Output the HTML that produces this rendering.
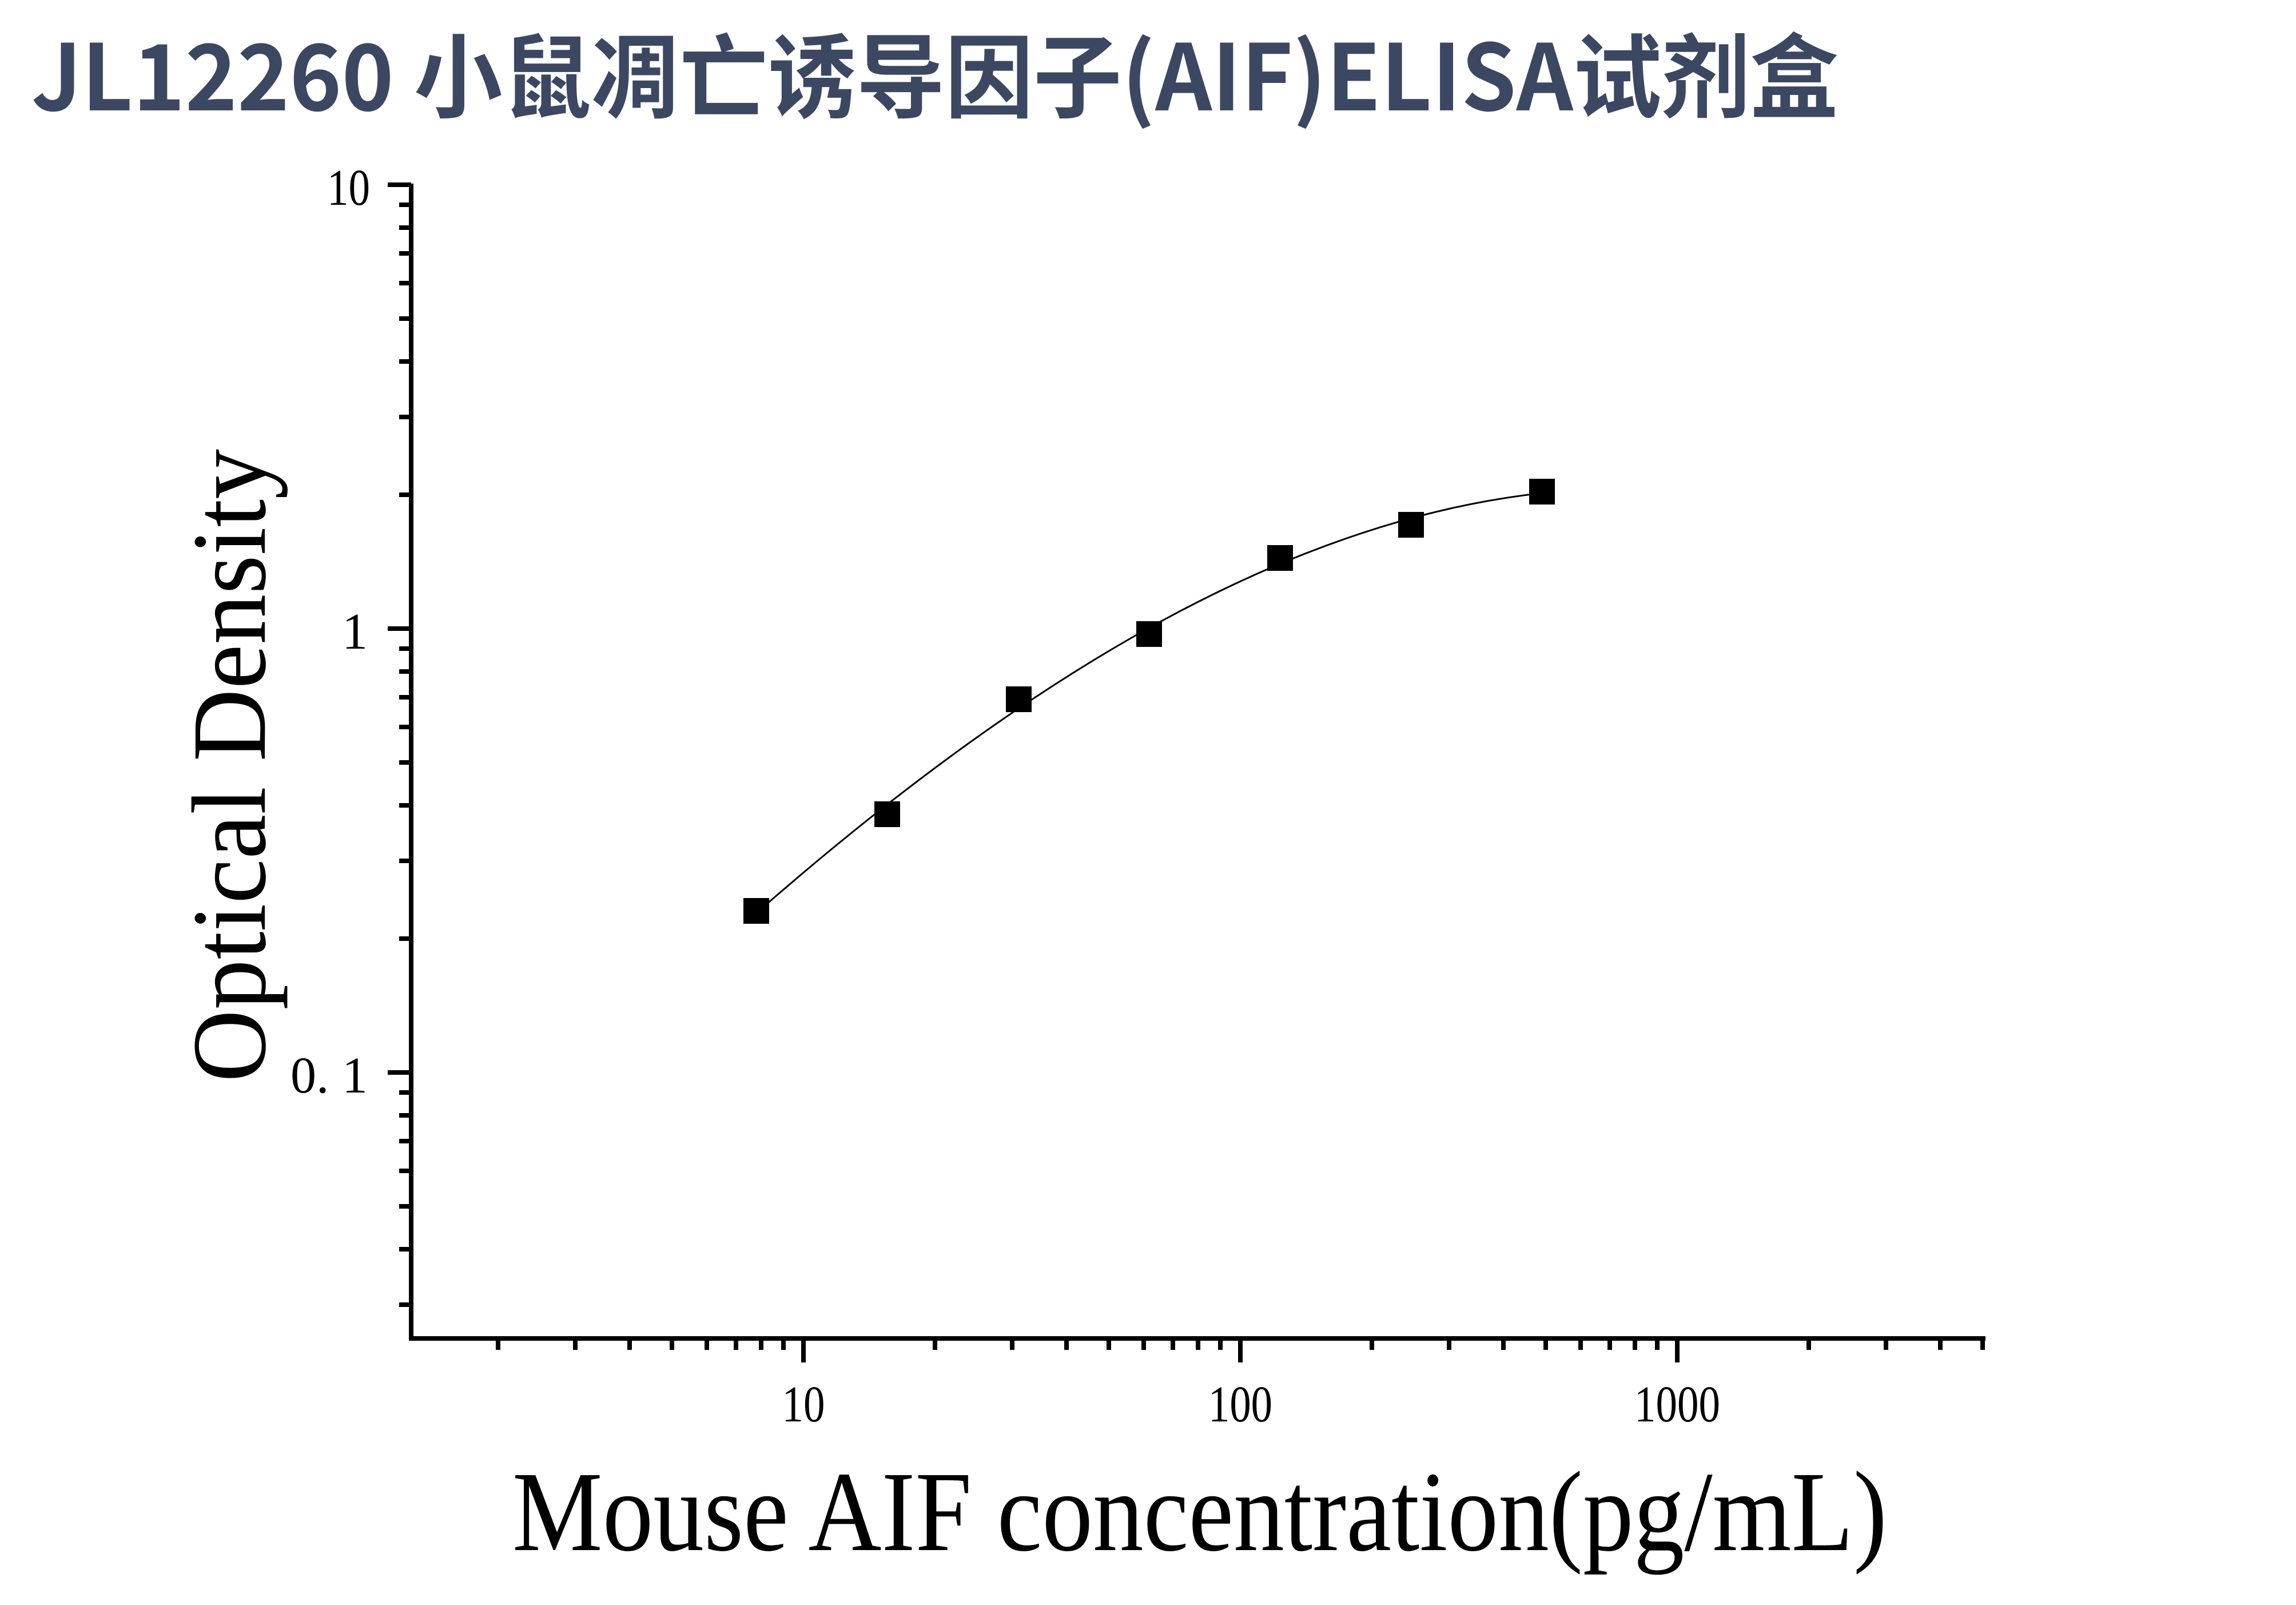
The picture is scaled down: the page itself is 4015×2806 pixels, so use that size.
<!DOCTYPE html>
<html><head><meta charset="utf-8"><style>html,body{margin:0;padding:0;background:#fff}svg{display:block}</style></head>
<body>
<svg width="4015" height="2806" viewBox="0 0 4015 2806" xmlns="http://www.w3.org/2000/svg">
<rect width="4015" height="2806" fill="#fff"/>
<text x="55" y="193" font-family="'Noto Sans CJK SC','Liberation Sans',sans-serif" font-weight="bold" font-size="160" fill="#3c4862" textLength="3160" lengthAdjust="spacingAndGlyphs">JL12260 小鼠凋亡诱导因子(AIF)ELISA试剂盒</text>
<g stroke="#000" stroke-width="8" fill="none">
<path d="M719 321 V2344 M715 2340 H3472"/>
<path d="M678 323 H719 M678 1099 H719 M678 1875 H719"/>
<path d="M698 358H719M698 398H719M698 443H719M698 495H719M698 557H719M698 632H719M698 729H719M698 865H719
M698 1134H719M698 1174H719M698 1219H719M698 1271H719M698 1333H719M698 1408H719M698 1505H719M698 1641H719
M698 1910H719M698 1950H719M698 1995H719M698 2047H719M698 2109H719M698 2184H719M698 2281H719"/>
<path d="M1405 2340V2382M2169 2340V2382M2933 2340V2382"/>
<path d="M871 2340V2360M1006 2340V2360M1101 2340V2360M1175 2340V2360M1236 2340V2360M1287 2340V2360M1331 2340V2360M1370 2340V2360
M1635 2340V2360M1770 2340V2360M1865 2340V2360M1939 2340V2360M2000 2340V2360M2051 2340V2360M2095 2340V2360M2134 2340V2360
M2399 2340V2360M2534 2340V2360M2629 2340V2360M2703 2340V2360M2764 2340V2360M2815 2340V2360M2859 2340V2360M2898 2340V2360
M3163 2340V2360M3298 2340V2360M3393 2340V2360M3467 2340V2360"/>
</g>
<g font-family="'Liberation Serif',serif" font-size="90" fill="#000">
<text x="647" y="358" text-anchor="end" textLength="75" lengthAdjust="spacingAndGlyphs">10</text>
<text x="643" y="1134" text-anchor="end">1</text>
<text x="643" y="1910" text-anchor="end">0. 1</text>
<text x="1405" y="2485" text-anchor="middle" textLength="75" lengthAdjust="spacingAndGlyphs">10</text>
<text x="2169" y="2485" text-anchor="middle" textLength="112" lengthAdjust="spacingAndGlyphs">100</text>
<text x="2933" y="2485" text-anchor="middle" textLength="150" lengthAdjust="spacingAndGlyphs">1000</text>
</g>
<text x="896" y="2710" font-family="'Liberation Serif',serif" font-size="200" fill="#000" textLength="2404" lengthAdjust="spacingAndGlyphs">Mouse AIF concentration(pg/mL)</text>
<text transform="translate(463,1892) rotate(-90)" x="0" y="0" font-family="'Liberation Serif',serif" font-size="185" fill="#000" textLength="1107" lengthAdjust="spacingAndGlyphs">Optical Density</text>
<path d="M1323 1596 C1781 1195 2239 912 2697 862" stroke="#000" stroke-width="3" fill="none"/>
<g fill="#000">
<rect x="1300" y="1570" width="45" height="45"/>
<rect x="1529" y="1401" width="45" height="45"/>
<rect x="1759" y="1200" width="45" height="45"/>
<rect x="1987" y="1086" width="45" height="45"/>
<rect x="2216" y="953" width="45" height="45"/>
<rect x="2445" y="895" width="45" height="45"/>
<rect x="2674" y="837" width="45" height="45"/>
</g>
</svg>
</body></html>
